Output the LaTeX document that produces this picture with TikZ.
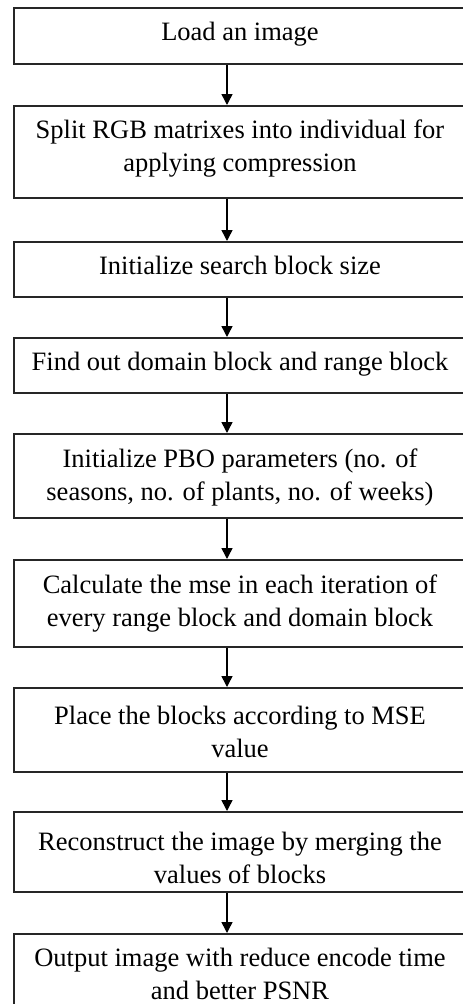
\documentclass[tikz,border=0pt]{standalone}
\usepackage{fontspec}
\setmainfont{Liberation Serif}
\usetikzlibrary{arrows.meta}
\begin{document}
\begin{tikzpicture}[x=1pt,y=-1pt,
  stepbox/.style={draw=black!85, line width=2pt, minimum width=452pt, inner sep=0pt},
  txt/.style={inner sep=0pt, align=center, font=\fontsize{26.5}{33}\selectfont, text=black},
  flow/.style={-{Triangle[length=11pt,width=11pt]}, line width=1.5pt, draw=black}]
\useasboundingbox (0,0) rectangle (463,1004);
\clip (0,0) rectangle (463,1004);
\fill[white] (0,0) rectangle (463,1004);
\coordinate (ax) at (227,0);
\node[stepbox, minimum height=56pt] (b1) at (240,36) {};
\node[stepbox, minimum height=92pt] (b2) at (240,152) {};
\node[stepbox, minimum height=55pt] (b3) at (240,269.5) {};
\node[stepbox, minimum height=55pt] (b4) at (240,365.5) {};
\node[stepbox, minimum height=84pt] (b5) at (240,476) {};
\node[stepbox, minimum height=87pt] (b6) at (240,603.5) {};
\node[stepbox, minimum height=84pt] (b7) at (240,730) {};
\node[stepbox, minimum height=80pt] (b8) at (240,852) {};
\node[stepbox, minimum height=86pt] (b9) at (240,977) {};
\node[txt] (t1) at (240,34) {Load an image};
\node[txt] (t2) at (240,148.5) {Split RGB matrixes into individual for\\applying compression};
\node[txt] (t3) at (240,265.5) {Initialize search block size};
\node[txt] (t4) at (240,364) {Find out domain block and range block};
\node[txt] (t5) at (240,477) {Initialize PBO parameters (no. of\\seasons, no. of plants, no. of weeks)};
\node[txt] (t6) at (240,603.5) {Calculate the mse in each iteration of\\every range block and domain block};
\node[txt] (t7) at (240,732) {Place the blocks according to MSE\\value};
\node[txt] (t8) at (240,858) {Reconstruct the image by merging the\\values of blocks};
\node[txt] (t9) at (240,973.5) {Output image with reduce encode time\\and better PSNR};
\foreach \a/\b in {b1/b2,b2/b3,b3/b4,b4/b5,b5/b6,b6/b7,b7/b8,b8/b9}
  \draw[flow] (\a.south -| ax) -- (\b.north -| ax);
\end{tikzpicture}
\end{document}
